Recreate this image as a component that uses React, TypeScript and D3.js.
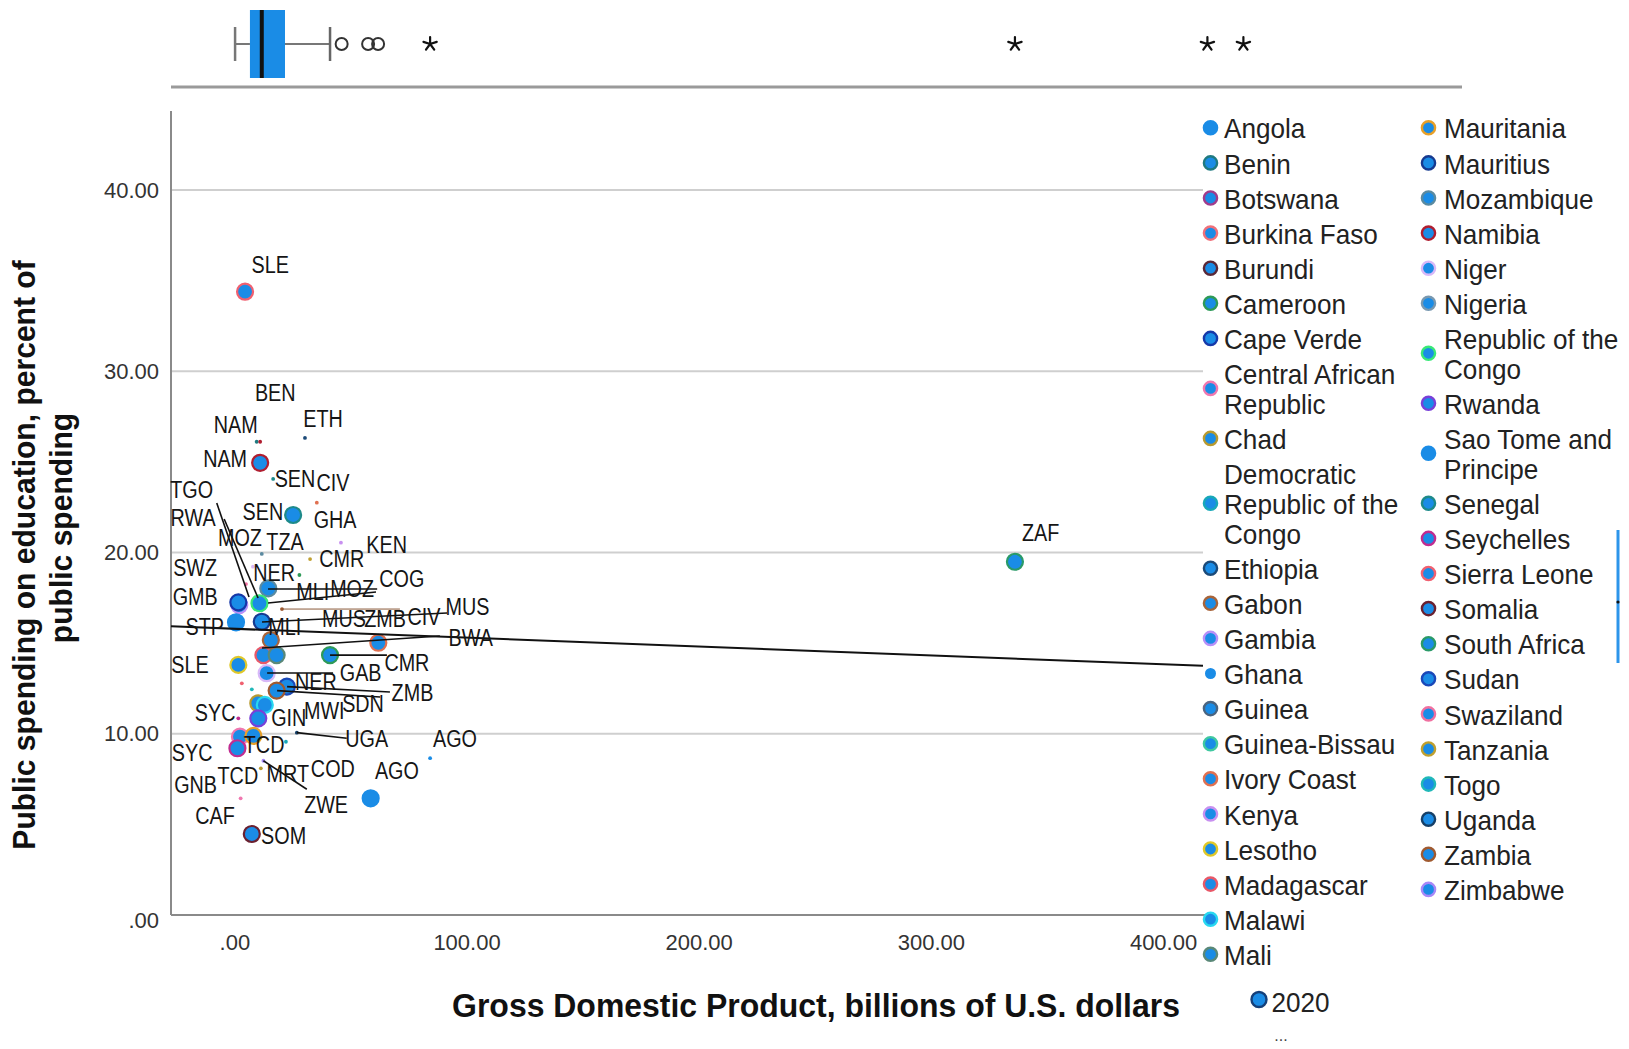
import React from 'react';
import * as d3 from 'd3';

// ---- data ---------------------------------------------------------------

// Legend entries (two columns, alphabetical)
const legendCol1 = [
  'Angola', 'Benin', 'Botswana', 'Burkina Faso', 'Burundi', 'Cameroon', 'Cape Verde',
  'Central African Republic', 'Chad', 'Democratic Republic of the Congo', 'Ethiopia',
  'Gabon', 'Gambia', 'Ghana', 'Guinea', 'Guinea-Bissau', 'Ivory Coast', 'Kenya',
  'Lesotho', 'Madagascar', 'Malawi', 'Mali',
];
const legendCol2 = [
  'Mauritania', 'Mauritius', 'Mozambique', 'Namibia', 'Niger', 'Nigeria',
  'Republic of the Congo', 'Rwanda', 'Sao Tome and Principe', 'Senegal', 'Seychelles',
  'Sierra Leone', 'Somalia', 'South Africa', 'Sudan', 'Swaziland', 'Tanzania', 'Togo',
  'Uganda', 'Zambia', 'Zimbabwe',
];
const legendWrap: Record<string, string[]> = {
  'Central African Republic': ['Central African', 'Republic'],
  'Democratic Republic of the Congo': ['Democratic', 'Republic of the', 'Congo'],
  'Republic of the Congo': ['Republic of the', 'Congo'],
  'Sao Tome and Principe': ['Sao Tome and', 'Principe'],
};

// [country, GDP (bn USD), education share of public spending (%)]
const obs2020: [string, number, number][] = [
  ['Sierra Leone', 4.4, 34.39],
  ['Namibia', 10.9, 24.95],
  ['Senegal', 25.1, 22.07],
  ['Mozambique', 14.4, 18.02],
  ['Gambia', 1.9, 17.1],
  ['Cape Verde', 1.5, 17.25],
  ['Republic of the Congo', 10.6, 17.2],
  ['Sao Tome and Principe', 0.5, 16.15],
  ['Mauritius', 11.6, 16.18],
  ['Madagascar', 12.3, 14.34],
  ['Mali', 18.0, 14.34],
  ['Gabon', 15.5, 15.17],
  ['Cameroon', 41.0, 14.34],
  ['Ivory Coast', 61.8, 15.02],
  ['Lesotho', 1.5, 13.8],
  ['Niger', 13.7, 13.34],
  ['Sudan', 22.4, 12.6],
  ['Zambia', 18.0, 12.38],
  ['Chad', 10.1, 11.68],
  ['Malawi', 12.9, 11.59],
  ['Rwanda', 10.1, 10.85],
  ['Central African Republic', 2.2, 9.84],
  ['Mauritania', 8.0, 9.88],
  ['Seychelles', 1.1, 9.2],
  ['Angola', 58.5, 6.44],
  ['Somalia', 7.3, 4.47],
  ['South Africa', 336.0, 19.49],
];

const obsEarlier: [string, number, number][] = [
  ['Benin', 9.4, 26.11],
  ['Namibia', 10.9, 26.11],
  ['Ethiopia', 30.2, 26.32],
  ['Senegal', 16.5, 24.06],
  ['Ivory Coast', 35.3, 22.75],
  ['Mozambique', 11.6, 19.92],
  ['Tanzania', 32.4, 19.64],
  ['Kenya', 45.7, 20.54],
  ['Cameroon', 27.8, 18.76],
  ['Niger', 7.8, 19.22],
  ['Swaziland', 4.8, 18.26],
  ['Zambia', 20.3, 16.88],
  ['Sierra Leone', 3.0, 12.78],
  ['Togo', 7.3, 12.45],
  ['Seychelles', 1.5, 10.85],
  ['Uganda', 26.7, 10.06],
  ['Democratic Republic of the Congo', 22.0, 9.56],
  ['Angola', 84.1, 8.65],
  ['Zimbabwe', 12.3, 8.51],
  ['Chad', 11.2, 8.09],
  ['Central African Republic', 2.5, 6.44],
];

// Country-code labels: [code, GDP, share] of the label's centre
const pointLabels: [string, number, number][] = [
  ['SLE', 15.2, 35.86], ['BEN', 17.4, 28.82], ['NAM', 0.4, 27.03], ['ETH', 38.0, 27.37],
  ['NAM', -4.2, 25.16], ['SEN', 25.9, 24.06], ['CIV', 42.3, 23.83], ['TGO', -18.6, 23.45],
  ['RWA', -18.0, 21.9], ['SEN', 12.1, 22.25], ['GHA', 43.2, 21.79], ['ZAF', 347.1, 21.06],
  ['MOZ', 2.2, 20.8], ['TZA', 21.6, 20.6], ['KEN', 65.4, 20.41], ['CMR', 46.0, 19.64],
  ['SWZ', -17.1, 19.14], ['NER', 16.9, 18.89], ['COG', 71.9, 18.54], ['GMB', -17.1, 17.56],
  ['MLI', 33.6, 17.85], ['MOZ', 50.5, 18.0], ['MUS', 100.2, 17.01], ['MUS', 47.0, 16.33],
  ['ZMB', 64.7, 16.33], ['CIV', 81.5, 16.44], ['STP', -13.0, 15.91], ['MLI', 21.5, 15.91],
  ['BWA', 101.6, 15.28], ['CMR', 74.1, 13.89], ['SLE', -19.3, 13.79], ['GAB', 54.2, 13.34],
  ['NER', 34.9, 12.87], ['ZMB', 76.5, 12.23], ['SDN', 55.2, 11.64], ['SYC', -8.5, 11.16],
  ['MWI', 38.5, 11.27], ['GIN', 23.2, 10.9], ['UGA', 56.8, 9.69], ['AGO', 94.8, 9.69],
  ['TCD', 12.6, 9.38], ['SYC', -18.4, 8.95], ['COD', 42.2, 8.05], ['MRT', 22.8, 7.78],
  ['TCD', 1.3, 7.67], ['AGO', 69.8, 7.95], ['GNB', -16.9, 7.17], ['ZWE', 39.3, 6.07],
  ['CAF', -8.5, 5.46], ['SOM', 21.0, 4.38],
];

// Label leader lines: [GDP1, share1, GDP2, share2]
const leaderLines: [number, number, number, number][] = [
  [-7.8, 22.73, 6.1, 17.54],
  [-4.6, 21.85, 10.0, 17.49],
  [14.3, 17.99, 61.3, 17.99],
  [14.3, 17.21, 60.8, 17.82],
  [11.7, 16.17, 91.4, 16.66],
  [11.7, 14.73, 88.3, 15.39],
  [41.0, 14.34, 65.5, 14.34],
  [13.9, 13.35, 42.3, 13.35],
  [22.5, 12.6, 66.8, 12.3],
  [18.2, 12.38, 62.6, 12.03],
  [26.7, 10.06, 48.2, 9.75],
  [12.3, 8.51, 31.0, 6.94],
];
const thinLeaders: [number, number, number, number][] = [
  [20.3, 16.88, 71.1, 16.88],
];

// Linear fit: share = intercept + slope * GDP
const fitIntercept = 15.79;
const fitSlope = -0.0049;

// GDP box plot: lower whisker, Q1, median, Q3, upper whisker
const gdpBox = [0.1, 6.5, 11.6, 21.6, 41.0];
const gdpOutliers = [46.0, 57.4, 61.7];
const gdpExtremes = [84.1, 336.0, 418.9, 434.4];

const xTicks = [0, 100, 200, 300, 400];
const yTicks = [0, 10, 20, 30, 40];
const xDomain = [-27.5, 417];
const yDomain = [0, 44.36];

const xTitle = 'Gross Domestic Product, billions of U.S. dollars';
const yTitle = ['Public spending on education, percent of', 'public spending'];
const sizeLegend = '2020';

// ---- styling ------------------------------------------------------------

const FILL = '#1a8ce6';
const FONT = "'Liberation Sans', Arial, sans-serif";

const outline: Record<string, string> = {
  'Angola': FILL,
  'Benin': '#1f7a80',
  'Botswana': '#a03c8c',
  'Burkina Faso': '#f0707a',
  'Burundi': '#5a2838',
  'Cameroon': '#2e9a58',
  'Cape Verde': '#1638a8',
  'Central African Republic': '#f078b0',
  'Chad': '#b89a30',
  'Democratic Republic of the Congo': '#18a8b8',
  'Ethiopia': '#1c4a78',
  'Gabon': '#a8643a',
  'Gambia': '#b890f8',
  'Ghana': '#3a9ce8',
  'Guinea': '#4a6480',
  'Guinea-Bissau': '#40c8a0',
  'Ivory Coast': '#e07050',
  'Kenya': '#c890f0',
  'Lesotho': '#e0c828',
  'Madagascar': '#e85868',
  'Malawi': '#28d8f0',
  'Mali': '#5a8878',
  'Mauritania': '#e8a028',
  'Mauritius': '#163a90',
  'Mozambique': '#5a8aa0',
  'Namibia': '#b01e30',
  'Niger': '#d8b8f8',
  'Nigeria': '#7898b0',
  'Republic of the Congo': '#38e878',
  'Rwanda': '#7840d8',
  'Sao Tome and Principe': FILL,
  'Senegal': '#1e8a8a',
  'Seychelles': '#c02c90',
  'Sierra Leone': '#f06070',
  'Somalia': '#6a2030',
  'South Africa': '#2a9a68',
  'Sudan': '#1a48b8',
  'Swaziland': '#f070a0',
  'Tanzania': '#c0a030',
  'Togo': '#20b8b8',
  'Uganda': '#164068',
  'Zambia': '#a05a30',
  'Zimbabwe': '#a888f8',
};

// Text with horizontal compression around its anchor
function SText(props: {
  x: number; y: number; sx?: number; rotate?: number; size: number;
  weight?: string | number; fill?: string; anchor?: string; dy?: string; children: React.ReactNode;
}) {
  const { x, y, sx = 1, rotate = 0, size, weight = 'normal', fill = '#111', anchor = 'middle', dy = '0', children } = props;
  return (
    <text
      transform={`translate(${x},${y}) rotate(${rotate}) scale(${sx},1)`}
      fontFamily={FONT}
      fontSize={size}
      fontWeight={weight}
      fill={fill}
      textAnchor={anchor as any}
      dy={dy}
    >
      {children}
    </text>
  );
}

function Asterisk({ cx, cy, r = 7 }: { cx: number; cy: number; r?: number }) {
  const d = d3.range(5).map((i) => {
    const a = (-90 + i * 72) * Math.PI / 180;
    return `M${cx},${cy}L${cx + r * Math.cos(a)},${cy + r * Math.sin(a)}`;
  }).join('');
  return <path d={d} stroke="#111" strokeWidth={2.2} strokeLinecap="round" fill="none" />;
}

function legendLayout(names: string[]) {
  const step = 35.1, inner = 29.8;
  let yy = 128.8;
  return names.map((n) => {
    const lines = legendWrap[n] ?? [n];
    const ys = lines.map((_, i) => yy + i * inner);
    const cy = (ys[0] + ys[ys.length - 1]) / 2 - 1;
    yy = ys[ys.length - 1] + step;
    return { name: n, lines, ys, cy };
  });
}

export default function App() {
  const W = 1629, H = 1049;
  const left = 171, right = 1203, top = 111, bottom = 915;
  const x = d3.scaleLinear().domain(xDomain).range([left, right]);
  const y = d3.scaleLinear().domain(yDomain).range([bottom, top]);
  const fmt = (v: number) => (v === 0 ? '.00' : v.toFixed(2));

  const fitPath = d3.line<number>()
    .x((v) => x(v))
    .y((v) => y(fitIntercept + fitSlope * v))(xDomain as number[]);

  // box plot strip
  const boxY = 44, boxTop = 10, boxBottom = 78, capTop = 27, capBottom = 61;
  const [wLo, q1, med, q3, wHi] = gdpBox;

  const col1 = legendLayout(legendCol1);
  const col2 = legendLayout(legendCol2);

  return (
    <svg width={W} height={H} style={{ position: 'absolute', left: 0, top: 0, background: '#fff' }}>
      <rect width={W} height={H} fill="#fff" />

      {/* box plot of GDP */}
      <line x1={left} x2={1462} y1={87} y2={87} stroke="#9a9a9a" strokeWidth={3} />
      <line x1={x(wLo)} x2={x(q1)} y1={boxY} y2={boxY} stroke="#777" strokeWidth={2} />
      <line x1={x(q3)} x2={x(wHi)} y1={boxY} y2={boxY} stroke="#777" strokeWidth={2} />
      <line x1={x(wLo)} x2={x(wLo)} y1={capTop} y2={capBottom} stroke="#777" strokeWidth={2.5} />
      <line x1={x(wHi)} x2={x(wHi)} y1={capTop} y2={capBottom} stroke="#666" strokeWidth={2.5} />
      <rect x={x(q1)} y={boxTop} width={x(q3) - x(q1)} height={boxBottom - boxTop} fill={FILL} />
      <line x1={x(med)} x2={x(med)} y1={boxTop} y2={boxBottom} stroke="#111" strokeWidth={4} />
      {gdpOutliers.map((v, i) => (
        <circle key={'o' + i} cx={x(v)} cy={boxY} r={6} fill="none" stroke="#333" strokeWidth={2} />
      ))}
      {gdpExtremes.map((v, i) => (
        <Asterisk key={'e' + i} cx={x(v)} cy={boxY} />
      ))}

      {/* grid */}
      {yTicks.filter((t) => t > 0).map((t) => (
        <line key={'g' + t} x1={left} x2={right} y1={y(t)} y2={y(t)} stroke="#cfcfcf" strokeWidth={2} />
      ))}

      {/* axes */}
      <line x1={left} x2={left} y1={top} y2={bottom} stroke="#8a8a8a" strokeWidth={2} />
      <line x1={left} x2={right + 2} y1={bottom} y2={bottom} stroke="#8a8a8a" strokeWidth={2} />

      {xTicks.map((t) => (
        <SText key={'xt' + t} x={x(t)} y={950} size={22} fill="#333">{fmt(t)}</SText>
      ))}
      {yTicks.map((t) => (
        <SText key={'yt' + t} x={159} y={y(t) + (t === 0 ? 5 : 0)} size={22} fill="#333" anchor="end" dy="0.35em">{fmt(t)}</SText>
      ))}

      {/* earlier-year observations */}
      {obsEarlier.map(([c, gx, gy], i) => (
        <circle key={'s' + i} cx={x(gx)} cy={y(gy)} r={1.9} fill={outline[c]} />
      ))}

      {/* 2020 observations */}
      {obs2020.map(([c, gx, gy], i) => (
        <circle key={'b' + i} cx={x(gx)} cy={y(gy)} r={8} fill={FILL} stroke={outline[c]} strokeWidth={2.2} />
      ))}

      {/* leader lines */}
      {leaderLines.map(([a, b, c, d], i) => (
        <line key={'l' + i} x1={x(a)} y1={y(b)} x2={x(c)} y2={y(d)} stroke="#111" strokeWidth={1.6} />
      ))}
      {thinLeaders.map(([a, b, c, d], i) => (
        <line key={'tl' + i} x1={x(a)} y1={y(b)} x2={x(c)} y2={y(d)} stroke="#8a5a3a" strokeWidth={1} />
      ))}

      {/* fit line */}
      <path d={fitPath ?? ''} stroke="#111" strokeWidth={2} fill="none" />

      {/* point labels */}
      {pointLabels.map(([code, gx, gy], i) => (
        <SText key={'pl' + i} x={x(gx)} y={y(gy)} size={23} sx={0.86} dy="0.35em" fill="#151515">{code}</SText>
      ))}

      {/* axis titles */}
      <SText x={816} y={1017} size={34} sx={0.94} weight="bold" fill="#111">{xTitle}</SText>
      <SText x={35} y={555} size={31} sx={0.97} rotate={-90} weight="bold" fill="#111">{yTitle[0]}</SText>
      <SText x={72} y={528} size={31} sx={0.97} rotate={-90} weight="bold" fill="#111">{yTitle[1]}</SText>

      {/* legend */}
      {[{ items: col1, dx: 1210.5, tx: 1224 }, { items: col2, dx: 1428.5, tx: 1444 }].map((col, ci) => (
        <g key={'col' + ci}>
          {col.items.map((it) => (
            <g key={it.name}>
              {it.name === 'Ghana' ? (
                <circle cx={col.dx} cy={it.cy} r={5.5} fill={FILL} />
              ) : (
                <circle cx={col.dx} cy={it.cy} r={6.6} fill={FILL} stroke={outline[it.name]} strokeWidth={2.4} />
              )}
              {it.lines.map((ln, li) => (
                <SText key={li} x={col.tx} y={it.ys[li]} size={27.5} sx={0.95} anchor="start" dy="0.35em" fill="#222">{ln}</SText>
              ))}
            </g>
          ))}
        </g>
      ))}

      {/* size legend */}
      <circle cx={1259} cy={999.5} r={7.5} fill={FILL} stroke="#15407a" strokeWidth={2.4} />
      <SText x={1271.5} y={1002} size={27.5} sx={0.95} anchor="start" dy="0.35em" fill="#222">{sizeLegend}</SText>
      <SText x={1281} y={1041} size={16} fill="#444">...</SText>

      {/* legend scroll indicator */}
      <line x1={1618} x2={1618} y1={530} y2={663} stroke="#2d95ea" strokeWidth={3} />
      <circle cx={1618} cy={602} r={1.6} fill="#111" />
    </svg>
  );
}
